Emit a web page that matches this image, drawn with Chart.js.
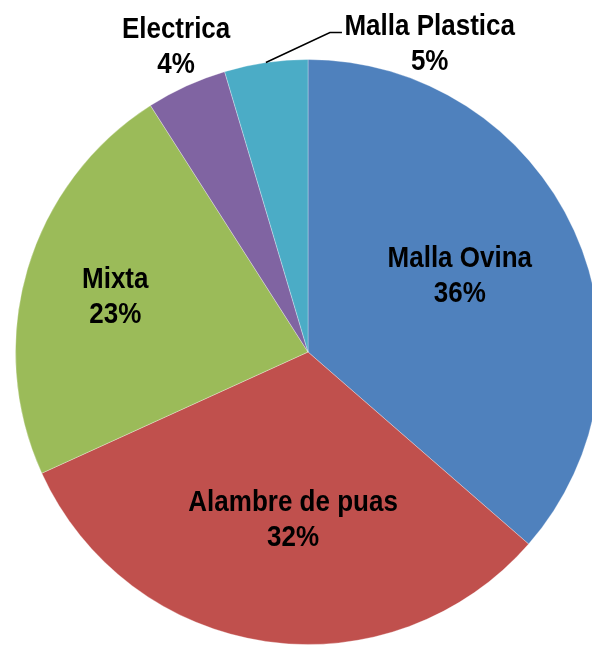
<!DOCTYPE html>
<html>
<head>
<meta charset="utf-8">
<script src="https://cdn.jsdelivr.net/npm/chart.js@4/dist/chart.umd.min.js"></script>
<style>
  html, body { margin: 0; padding: 0; background: #fff; overflow: hidden; }
  #wrap { position: absolute; left: 0; top: 0; width: 616px; height: 646px; }
</style>
</head>
<body>
<div id="wrap"><canvas id="c" width="616" height="646"></canvas></div>
<script>
// ---- data ----
const categories = ["Malla Ovina", "Alambre de puas", "Mixta", "Electrica", "Malla Plastica"];
const values = [36.4, 31.8, 22.75, 4.45, 4.6];
const colors = ["#4F81BD", "#C0504D", "#9BBB59", "#8064A2", "#4BACC6"];

// label anchors, in units of the pie radius, relative to its centre
const labelAnchors = [
  [0.519, -0.268],
  [-0.051, 0.567],
  [-0.659, -0.195],
  [-0.451, -1.051],
  [0.416, -1.062]
];

const labelPlugin = {
  id: 'pieLabels',
  afterDatasetsDraw(chart) {
    const ctx = chart.ctx;
    const meta = chart.getDatasetMeta(0);
    const a0 = meta.data[0];
    const cx = a0.x, cy = a0.y, R = a0.outerRadius;
    const lineGap = 35, capH = 22, sy = 1.17;

    // leader line for the last slice
    const last = meta.data[meta.data.length - 1];
    const mid = (last.startAngle + last.endAngle) / 2;
    ctx.save();
    ctx.strokeStyle = '#000';
    ctx.lineWidth = 1.5;
    ctx.beginPath();
    ctx.moveTo(cx + R * Math.cos(mid), cy + R * Math.sin(mid));
    ctx.lineTo(cx + R * 0.075, cy - R * 1.092);
    ctx.lineTo(cx + R * 0.116, cy - R * 1.092);
    ctx.stroke();
    ctx.restore();

    ctx.save();
    ctx.fillStyle = '#000';
    ctx.font = 'bold 26px "Liberation Sans", Arial, sans-serif';
    ctx.textAlign = 'center';
    ctx.textBaseline = 'alphabetic';
    categories.forEach((name, i) => {
      const [fx, fy] = labelAnchors[i];
      const x = cx + fx * R;
      const y = cy + fy * R;
      const lines = [name, Math.round(values[i]) + '%'];
      lines.forEach((t, k) => {
        const base = y + (k === 0 ? -lineGap / 2 : lineGap / 2) + capH / 2;
        ctx.save();
        ctx.translate(x, base);
        ctx.scale(1, sy);
        ctx.fillText(t, 0, 0);
        ctx.restore();
      });
    });
    ctx.restore();
  }
};

new Chart(document.getElementById('c'), {
  type: 'pie',
  data: {
    labels: categories,
    datasets: [{
      data: values,
      backgroundColor: colors,
      borderColor: 'rgba(255,255,255,0.3)',
      borderWidth: 1
    }]
  },
  options: {
    responsive: false,
    animation: false,
    devicePixelRatio: 1,
    layout: { padding: { top: 59, bottom: 1, left: 15, right: 15 } },
    plugins: {
      legend: { display: false },
      tooltip: { enabled: false }
    }
  },
  plugins: [labelPlugin]
});
</script>
</body>
</html>
